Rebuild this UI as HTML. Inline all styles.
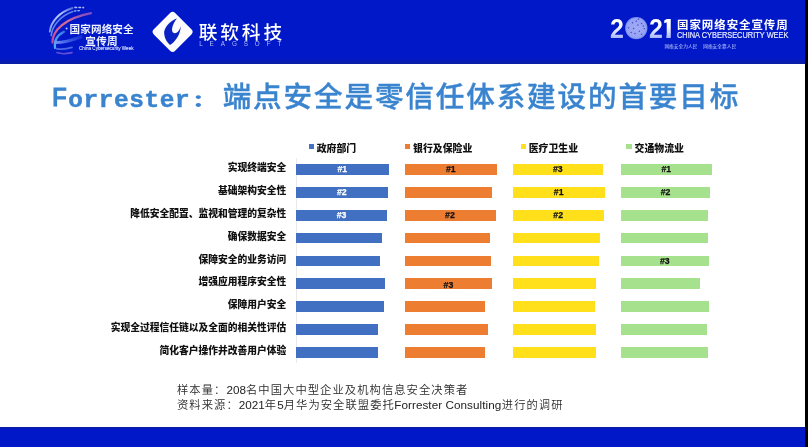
<!DOCTYPE html>
<html lang="zh-CN">
<head>
<meta charset="utf-8">
<title>Forrester：端点安全是零信任体系建设的首要目标</title>
<style>
html,body{margin:0;padding:0;}
body{width:808px;height:447px;position:relative;overflow:hidden;background:#fff;
  font-family:"Liberation Sans","Noto Sans CJK SC",sans-serif;}
.abs{position:absolute;white-space:nowrap;}
#hdr{left:0;top:0;width:808px;height:63.6px;background:linear-gradient(#0118c9,#0118c9 58px,#0a1fa8 62.6px,#0a1fa8);}
#ftr{left:0;top:427.2px;width:808px;height:20px;background:linear-gradient(#0a1c9c,#0118c9 2.5px);}
#edge{left:805px;top:0;width:3px;height:447px;background:#000;}
#title{left:53.1px;top:74.7px;height:46px;line-height:46px;font-size:28.6px;font-weight:bold;color:#3a84cf;letter-spacing:1.8px;}
#title .la{font-family:"Liberation Mono",monospace;position:relative;}
#title .la.c{font-size:26.9px;letter-spacing:0;margin-left:-1.5px;margin-right:.56px;top:-1.8px;font-weight:400;-webkit-text-stroke:1.1px #3a84cf;}
#title .la.l{font-size:24.4px;letter-spacing:.61px;top:-1.1px;-webkit-text-stroke:.5px #3a84cf;}
#title .co{display:inline-block;width:32.1px;height:20px;line-height:20px;vertical-align:baseline;letter-spacing:0;font-family:"Noto Serif CJK SC",serif;font-weight:900;font-size:19px;position:relative;}
#title .co span{position:absolute;left:.6px;top:1.6px;transform-origin:0 50%;transform:scaleX(1.35);}
#title .zh{position:relative;top:-.6px;font-weight:500;letter-spacing:1.85px;margin-left:.3px;-webkit-text-stroke:.35px #3a84cf;}
.lab{font-size:9.75px;font-weight:900;color:#111;margin-top:.6px;line-height:14px;height:14px;text-align:right;width:200px;left:86.3px;}
.leg{font-size:9.88px;font-weight:900;color:#111;line-height:14px;height:14px;top:142.1px;}
.mk{width:5px;height:5px;top:144px;}
.bar{height:10.7px;margin-top:.05px;}
.b{background:#4170c3;left:296.3px;}
.o{background:#ed7d31;left:405px;}
.y{background:#ffe01a;left:513.2px;}
.g{background:#a6e28d;left:621.2px;}
.n{font-size:8.7px;font-weight:bold;line-height:11.3px;text-align:center;color:#111;-webkit-text-stroke:.25px #111;text-indent:-.6px;}
.b.n{color:#fff;-webkit-text-stroke:.25px #fff;}
#axis{left:295.6px;top:158px;width:1px;height:205px;background:#e9e9e9;}
.note{left:177px;font-size:11.3px;letter-spacing:1.06px;color:#2b2b2b;font-weight:350;line-height:15px;height:15px;}
.note span{font-size:11.7px;letter-spacing:0;font-weight:400;color:#222;}

#logo1{left:40px;top:0;}
.l1{color:#eef2ff;font-weight:bold;font-size:10.6px;line-height:12px;height:12px;}
#l1c{left:78.8px;top:45.4px;font-size:5.2px;line-height:7px;height:7px;color:#d6deff;-webkit-text-stroke:.15px #d6deff;transform-origin:0 50%;transform:scaleX(.89);}
#lr{left:198.7px;top:18.5px;font-size:18.7px;line-height:27px;height:27px;color:#fff;letter-spacing:2.9px;font-weight:500;}
#lre{left:199.2px;top:40.3px;font-size:6.3px;line-height:8px;height:8px;color:#b4bef6;letter-spacing:6.93px;}
#y21{left:0;top:0;}
.dg{font-weight:bold;font-size:27.2px;line-height:30px;height:30px;color:transparent;background:linear-gradient(#fff 8px,#f4f6ff 14px,#a9b6fb 24px);-webkit-background-clip:text;background-clip:text;transform-origin:0 0;transform:scaleX(.92);}
#cn{left:677px;top:17px;font-size:10.8px;line-height:16px;height:16px;color:#fff;letter-spacing:.91px;font-weight:700;transform-origin:0 50%;transform:scaleX(1.06);}
#en{left:677.3px;top:29.1px;font-size:8.7px;line-height:12px;height:12px;color:#e8ecff;-webkit-text-stroke:.2px #e8ecff;transform-origin:0 50%;transform:scaleX(.853);}
.sm{top:42.7px;font-size:4.72px;line-height:8px;height:8px;color:#b9c3f5;}
</style>
</head>
<body>
<div id="hdr" class="abs"></div>
<div id="ftr" class="abs"></div>

<svg id="logo1" class="abs" width="260" height="63" viewBox="40 0 260 63">
  <defs>
    <linearGradient id="ga" x1="0" y1="1" x2="1" y2="0"><stop offset="0" stop-color="#7f9cf0"/><stop offset=".6" stop-color="#b9c8f5"/><stop offset="1" stop-color="#8fa6f5" stop-opacity=".6"/></linearGradient>
    <linearGradient id="gb" x1="0" y1="1" x2="1" y2="0"><stop offset="0" stop-color="#c04a9a"/><stop offset=".5" stop-color="#d96b8f"/><stop offset="1" stop-color="#b560c0" stop-opacity=".7"/></linearGradient>
    <linearGradient id="gc" x1="0" y1="1" x2="1" y2="0"><stop offset="0" stop-color="#4fb0f0"/><stop offset="1" stop-color="#6fd0ff" stop-opacity=".5"/></linearGradient>
    <linearGradient id="gd" x1="0" y1="0" x2="1" y2="0"><stop offset="0" stop-color="#6f92f6"/><stop offset="1" stop-color="#4668ea" stop-opacity=".35"/></linearGradient>
  </defs>
  <g fill="none" stroke-linecap="round">
    <path d="M49.8 31.5 C51 21.5 59.5 12 72.5 8" stroke="url(#ga)" stroke-width="1.9"/>
    <path d="M75 7.4 L83.5 7.6" stroke="#a9baf6" stroke-width="1.6" stroke-dasharray="1.6 2.4"/>
    <path d="M51.2 35.6 C52.2 25.5 60.5 16 72.8 11.6" stroke="#6f94ee" stroke-width="1.6" opacity=".9"/>
    <path d="M74.6 11 L79.5 10.6" stroke="#8fb0f5" stroke-width="1.4" stroke-dasharray="1.4 2"/>
    <path d="M52.4 42.4 C52.6 30.5 64 18.5 91 13.2" stroke="url(#gb)" stroke-width="2.2"/>
    <path d="M55 48 C53.8 41 57 35.5 64 31.8" stroke="url(#gc)" stroke-width="2.1"/>
    <path d="M55.6 42.6 C62 42.8 71 40.6 81 37" stroke="url(#gd)" stroke-width="3"/>
    <path d="M56.4 48.6 C61 49.6 67 49 72 47.4" stroke="#5a78ee" stroke-width="1.8" opacity=".85"/>
    <path d="M57 52.6 C60.5 54 66 54 72 52.6" stroke="#8a62d8" stroke-width="1.6" opacity=".75"/>
  </g>
  <circle cx="66.6" cy="28.6" r="1" fill="#b9c8ff"/>
  <!-- leagsoft diamond -->
  <rect x="157.5" y="16.8" width="30.2" height="30.2" rx="3.6" fill="#fcfcff" transform="rotate(45 172.6 31.9)"/>
  <path d="M177 18.2 C170 21 163.5 27.5 164.2 34 C164.6 38.5 167 42.5 170 45 C175 42 181 34 180.7 25.7 C180 29.5 178 33 174.8 33.2 C172.5 33.2 171.6 30.5 172.2 28 C172.8 24.5 174.8 21 177 18.2 Z" fill="#0a22c4"/>
</svg>
<div class="abs l1" style="left:69.6px;top:23.2px;letter-spacing:.1px">国家网络安全</div>
<div class="abs l1" style="left:85.3px;top:34.7px;letter-spacing:.3px">宣传周</div>
<div id="l1c" class="abs">China Cybersecurity Week</div>
<div id="lr" class="abs">联软科技</div>
<div id="lre" class="abs">LEAGSOFT</div>

<svg id="y21" class="abs" width="808" height="63" viewBox="0 0 808 63">
  <defs>
    <radialGradient id="gg" cx=".5" cy=".5" r=".5"><stop offset="0" stop-color="#97a3f5"/><stop offset=".82" stop-color="#8c99f2"/><stop offset="1" stop-color="#6f80ea"/></radialGradient>
    <pattern id="hatch" width="1.6" height="1.6" patternUnits="userSpaceOnUse" patternTransform="rotate(45)"><rect width="1.6" height=".7" fill="#c3cbff" opacity=".45"/></pattern>
  </defs>
  <circle cx="636.3" cy="28.1" r="11.2" fill="url(#gg)"/>
  <circle cx="636.3" cy="28.1" r="10.6" fill="url(#hatch)"/>
  <g fill="#3442b8" opacity=".85"><circle cx="638.5" cy="19.2" r=".75"/><circle cx="632.5" cy="22.7" r=".75"/><circle cx="641.5" cy="23.5" r=".75"/><circle cx="637.9" cy="24.9" r=".75"/><circle cx="628.6" cy="27.7" r=".75"/><circle cx="633.6" cy="28.5" r=".75"/><circle cx="644.3" cy="28.8" r=".75"/><circle cx="639.3" cy="31.3" r=".75"/><circle cx="631.1" cy="32.4" r=".75"/><circle cx="635.0" cy="33.5" r=".75"/><circle cx="641.5" cy="34.2" r=".75"/><circle cx="636.3" cy="21.3" r=".75"/><circle cx="643.3" cy="26.0" r=".75"/></g>
</svg>
<div class="abs dg" style="left:609.7px;top:14.3px">2</div>
<div class="abs dg" style="left:648.6px;top:14.3px">2</div>
<div class="abs dg" style="left:658.6px;top:14.3px;transform:scaleX(1.19);clip-path:polygon(4.4px 0,9.95px 0,9.95px 30px,6.2px 30px,6.2px 9px,4.4px 9px)">1</div>
<div id="cn" class="abs">国家网络安全宣传周</div>
<div id="en" class="abs">CHINA CYBERSECURITY WEEK</div>
<div class="abs sm" style="left:664.4px">网络安全为人民</div>
<div class="abs sm" style="left:703.2px">网络安全靠人民</div>
<div id="title" class="abs"><span class="la c">F</span><span class="la l">orrester</span><span class="co"><span>：</span></span><span class="zh">端点安全是零信任体系建设的首要目标</span></div>

<div id="axis" class="abs"></div>

<div class="abs mk" style="left:309px;background:#4472c4"></div><div class="abs leg" style="left:316.7px">政府部门</div>
<div class="abs mk" style="left:405.3px;background:#ed7d31"></div><div class="abs leg" style="left:413px">银行及保险业</div>
<div class="abs mk" style="left:520.6px;background:#ffe01a"></div><div class="abs leg" style="left:528.7px">医疗卫生业</div>
<div class="abs mk" style="left:626.3px;width:5.6px;height:5.4px;background:#a6e28d"></div><div class="abs leg" style="left:634.5px">交通物流业</div>

<div class="abs lab" style="top:160.6px">实现终端安全</div>
<div class="abs lab" style="top:183.5px">基础架构安全性</div>
<div class="abs lab" style="top:206.3px">降低安全配置、监视和管理的复杂性</div>
<div class="abs lab" style="top:229.2px">确保数据安全</div>
<div class="abs lab" style="top:252.1px">保障安全的业务访问</div>
<div class="abs lab" style="top:274.9px">增强应用程序安全性</div>
<div class="abs lab" style="top:297.8px">保障用户安全</div>
<div class="abs lab" style="top:320.6px">实现全过程信任链以及全面的相关性评估</div>
<div class="abs lab" style="top:343.5px">简化客户操作并改善用户体验</div>

<div class="abs bar b n" style="top:164.1px;width:92.6px">#1</div>
<div class="abs bar b n" style="top:187.0px;width:91.5px">#2</div>
<div class="abs bar b n" style="top:209.8px;width:91.0px">#3</div>
<div class="abs bar b" style="top:232.7px;width:85.7px"></div>
<div class="abs bar b" style="top:255.6px;width:83.9px"></div>
<div class="abs bar b" style="top:278.4px;width:88.3px"></div>
<div class="abs bar b" style="top:301.3px;width:87.4px"></div>
<div class="abs bar b" style="top:324.1px;width:81.8px"></div>
<div class="abs bar b" style="top:347.0px;width:81.4px"></div>

<div class="abs bar o n" style="top:164.1px;width:92.1px">#1</div>
<div class="abs bar o" style="top:187.0px;width:87.2px"></div>
<div class="abs bar o n" style="top:209.8px;width:90.5px">#2</div>
<div class="abs bar o" style="top:232.7px;width:84.8px"></div>
<div class="abs bar o" style="top:255.6px;width:85.8px"></div>
<div class="abs bar o n" style="top:278.4px;width:87.4px"><span style="position:relative;top:1.5px">#3</span></div>
<div class="abs bar o" style="top:301.3px;width:80.1px"></div>
<div class="abs bar o" style="top:324.1px;width:83.0px"></div>
<div class="abs bar o" style="top:347.0px;width:80.1px"></div>

<div class="abs bar y n" style="top:164.1px;width:89.8px">#3</div>
<div class="abs bar y n" style="top:187.0px;width:91.6px">#1</div>
<div class="abs bar y n" style="top:209.8px;width:90.5px">#2</div>
<div class="abs bar y" style="top:232.7px;width:86.9px"></div>
<div class="abs bar y" style="top:255.6px;width:85.5px"></div>
<div class="abs bar y" style="top:278.4px;width:82.7px"></div>
<div class="abs bar y" style="top:301.3px;width:82.1px"></div>
<div class="abs bar y" style="top:324.1px;width:83.0px"></div>
<div class="abs bar y" style="top:347.0px;width:83.0px"></div>

<div class="abs bar g n" style="top:164.1px;width:90.9px">#1</div>
<div class="abs bar g n" style="top:187.0px;width:89.3px">#2</div>
<div class="abs bar g" style="top:209.8px;width:86.9px"></div>
<div class="abs bar g" style="top:232.7px;width:87.0px"></div>
<div class="abs bar g n" style="top:255.6px;width:87.7px">#3</div>
<div class="abs bar g" style="top:278.4px;width:78.9px"></div>
<div class="abs bar g" style="top:301.3px;width:87.4px"></div>
<div class="abs bar g" style="top:324.1px;width:86.2px"></div>
<div class="abs bar g" style="top:347.0px;width:86.8px"></div>

<div class="abs note" style="top:382.2px">样本量：<span>208</span>名中国大中型企业及机构信息安全决策者</div>
<div class="abs note" style="top:397.2px">资料来源：<span>2021</span>年<span>5</span>月华为安全联盟委托<span style="letter-spacing:.06px;margin-left:-.7px;margin-right:.5px">Forrester Consulting</span>进行的调研</div>

<div id="edge" class="abs"></div>
</body>
</html>
